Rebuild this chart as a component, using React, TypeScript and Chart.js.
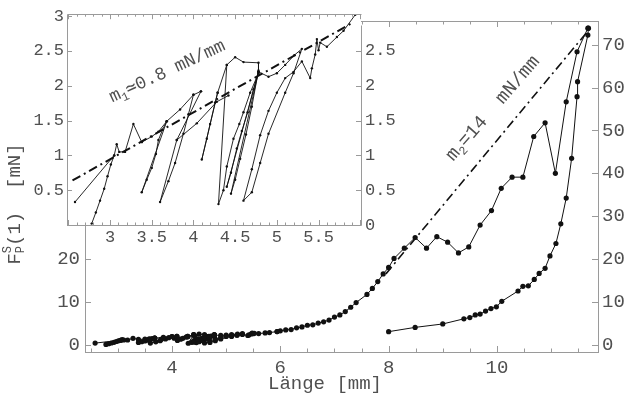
import React, { useEffect, useRef } from 'react';
import { Chart, registerables } from 'chart.js';
Chart.register(...registerables);

type P = [number, number];

// ---------- inset data (Länge [mm], F [mN]) ----------
const insetSegA: P[] = [[2.58, 0.33], [3.05, 1.0]];
const insetSegB: P[] = [[2.78, 0.02], [2.83, 0.18], [2.88, 0.35], [2.93, 0.52], [2.97, 0.7], [3.01, 0.87], [3.05, 1.0], [3.08, 1.16], [3.11, 1.05], [3.18, 1.05], [3.28, 1.45], [3.38, 1.19], [3.5, 1.27], [3.58, 1.34], [3.68, 1.49]];
const insetSegC: P[] = [[3.68, 1.49], [3.38, 0.47], [3.44, 0.65], [3.5, 0.82], [3.55, 1.02], [3.58, 1.22], [3.63, 1.37], [3.68, 1.49], [3.84, 1.66], [4.0, 1.87], [4.09, 1.92]];
const insetSegD: P[] = [[4.09, 1.92], [3.8, 1.22], [3.6, 0.33], [3.7, 0.63], [3.78, 0.89], [3.88, 1.31], [3.94, 1.59], [4.0, 1.87]];
const insetSegE: P[] = [[3.8, 1.22], [4.04, 1.46], [4.28, 1.77], [4.42, 1.86]];
const insetSegF: P[] = [[4.29, 1.9], [4.1, 0.94], [4.16, 1.24], [4.2, 1.45], [4.26, 1.76], [4.29, 1.9], [4.4, 2.3], [4.5, 2.41], [4.6, 2.34], [4.78, 2.33], [4.78, 2.2]];
const insetSegG: P[] = [[4.4, 2.3], [4.3, 0.3], [4.36, 0.5], [4.4, 0.84], [4.48, 1.24], [4.55, 1.45], [4.6, 1.62], [4.68, 1.9], [4.78, 2.18]];
const insetSegH: P[] = [[4.78, 2.2], [4.4, 0.55], [4.45, 0.75], [4.52, 1.1], [4.58, 1.35], [4.65, 1.62], [4.72, 1.95], [4.78, 2.2], [4.45, 0.45], [4.5, 0.65], [4.56, 0.95], [4.63, 1.3], [4.7, 1.7], [4.78, 2.22]];
const insetSegI: P[] = [[4.78, 2.2], [4.9, 2.13], [5.0, 2.18], [5.1, 2.3], [5.21, 2.44], [5.3, 2.53], [5.2, 2.18], [5.1, 1.9], [4.9, 1.31], [4.8, 0.89], [4.7, 0.47], [4.6, 0.35], [4.7, 0.8], [4.8, 1.29], [4.9, 1.64], [5.0, 1.9], [5.1, 2.11], [5.2, 2.2], [5.3, 2.35], [5.4, 2.11], [5.42, 2.25], [5.46, 2.45], [5.48, 2.67], [5.5, 2.51], [5.52, 2.62], [5.6, 2.56], [5.72, 2.7], [5.8, 2.79], [5.94, 3.02]];
const insetSegments: P[][] = [insetSegA, insetSegB, insetSegC, insetSegD, insetSegE, insetSegF, insetSegG, insetSegH, insetSegI];

// ---------- main curve continuation ----------
const mainLoading: P[] = [[5.94, 3.02], [6.0, 3.2], [6.1, 3.4], [6.2, 3.5], [6.3, 3.9], [6.4, 4.1], [6.5, 4.5], [6.6, 4.6], [6.7, 5.0], [6.8, 5.3], [6.9, 5.7], [7.0, 6.4], [7.1, 6.9], [7.2, 7.7], [7.3, 8.7], [7.4, 9.8], [7.6, 11.7], [7.7, 13.1], [7.8, 14.7], [7.9, 16.5], [8.0, 18.0], [8.1, 20.1], [8.29, 22.5], [8.49, 25.0], [8.7, 22.5], [8.89, 25.2], [9.09, 23.9], [9.29, 21.4], [9.48, 22.8], [9.69, 27.9], [9.9, 31.3], [10.08, 36.5], [10.28, 39.1], [10.48, 39.1], [10.68, 48.6], [10.89, 51.8], [11.08, 40.0], [11.28, 56.7], [11.48, 68.4], [11.68, 73.9]];
const mainSecond: P[] = [[8.0, 3.0], [8.49, 4.0], [9.0, 4.8], [9.39, 6.0], [9.5, 6.3], [9.6, 6.9], [9.69, 7.1], [9.79, 7.8], [9.89, 8.4], [9.99, 8.8], [10.09, 10.1], [10.39, 12.5], [10.48, 13.6], [10.58, 13.7], [10.69, 15.2], [10.78, 16.6], [10.89, 17.8], [10.98, 20.7], [11.09, 23.6], [11.18, 28.2], [11.28, 34.2], [11.38, 43.5], [11.48, 57.9], [11.49, 61.4], [11.68, 72.3], [11.69, 73.9]];

// slope lines
const slope1Line: P[] = [[2.55, 0.64], [5.9, 2.9]];
const slope2Line: P[] = [[7.95, 16.5], [11.75, 74.3]];

// ticks
const mainXLabels = [4, 6, 8, 10];
const mainXMinor = [2.5, 3, 3.5, 4, 4.5, 5, 5.5, 6, 6.5, 7, 7.5, 8, 8.5, 9, 9.5, 10, 10.5, 11, 11.5];
const mainYLabels = [0, 10, 20, 30, 40, 50, 60, 70];
const insetXLabels = [3, 3.5, 4, 4.5, 5, 5.5];
const insetYLeftLabels = [0.5, 1, 1.5, 2, 2.5, 3];
const insetYRightLabels = [0, 0.5, 1, 1.5, 2, 2.5];

// annotation anchors (data coords)
const m1Anchor: P = [3.68, 2.22];
const m2Anchor: P = [9.915, 55.3];

const FONT = "'Liberation Mono', 'DejaVu Sans Mono', monospace";
const TEXT = '#505050';
const FRAME = '#9a9a9a';
const INK = '#111';

type Part = { t: string; size: number; dy: number; adv?: boolean };

function drawParts(ctx: CanvasRenderingContext2D, parts: Part[], cx: number, cy: number, angle: number) {
  ctx.save();
  ctx.translate(cx, cy);
  ctx.rotate(angle);
  let total = 0;
  for (const p of parts) {
    ctx.font = `${p.size}px ${FONT}`;
    if (p.adv !== false) total += ctx.measureText(p.t).width;
  }
  let u = -total / 2;
  ctx.textAlign = 'left';
  ctx.textBaseline = 'alphabetic';
  ctx.fillStyle = TEXT;
  for (const p of parts) {
    ctx.font = `${p.size}px ${FONT}`;
    ctx.fillText(p.t, u, p.dy);
    if (p.adv !== false) u += ctx.measureText(p.t).width;
  }
  ctx.restore();
}

const px = (v: number) => Math.round(v) + 0.5;

const mainDeco = {
  id: 'mainDeco',
  afterDraw(chart: any) {
    const { ctx, chartArea: a, scales } = chart;
    const x = scales.x, y = scales.y;
    ctx.save();
    ctx.strokeStyle = FRAME;
    ctx.lineWidth = 1;
    ctx.strokeRect(px(a.left), px(a.top), Math.round(a.right - a.left), Math.round(a.bottom - a.top));
    ctx.beginPath();
    for (const v of mainXMinor) {
      const X = px(x.getPixelForValue(v));
      const len = mainXLabels.includes(v) ? 6 : 3.5;
      ctx.moveTo(X, a.bottom); ctx.lineTo(X, a.bottom - len);
      ctx.moveTo(X, a.top); ctx.lineTo(X, a.top + len);
    }
    for (const v of mainYLabels) {
      const Y = px(y.getPixelForValue(v));
      ctx.moveTo(a.left, Y); ctx.lineTo(a.left + 6, Y);
      ctx.moveTo(a.right, Y); ctx.lineTo(a.right - 6, Y);
    }
    ctx.stroke();
    ctx.restore();
    drawParts(ctx, [
      { t: 'F', size: 19, dy: 0 },
      { t: 'S', size: 12, dy: -9, adv: false },
      { t: 'P', size: 12, dy: 4 },
      { t: '(1)  [mN]', size: 19, dy: 0 },
    ], 20, 204, -Math.PI / 2);
    drawParts(ctx, [{ t: 'Länge [mm]', size: 19, dy: 6 }], 325, 383, 0);
    drawParts(ctx, [
      { t: 'm', size: 19, dy: 6 },
      { t: '2', size: 12, dy: 10 },
      { t: '=14  mN/mm', size: 19, dy: 6 },
    ], x.getPixelForValue(m2Anchor[0]), y.getPixelForValue(m2Anchor[1]), -49 * Math.PI / 180);
  },
};

const insetDeco = {
  id: 'insetDeco',
  beforeDraw(chart: any) {
    const { ctx, chartArea: a } = chart;
    ctx.save();
    ctx.fillStyle = '#fff';
    ctx.fillRect(28, 0, a.right - 28, a.bottom);
    ctx.restore();
  },
  afterDraw(chart: any) {
    const { ctx, chartArea: a, scales } = chart;
    const x = scales.x, y = scales.y;
    ctx.save();
    ctx.strokeStyle = FRAME;
    ctx.lineWidth = 1;
    const L = px(a.left), R = px(a.right), T = px(a.top), B = px(a.bottom);
    ctx.beginPath();
    ctx.moveTo(L, T); ctx.lineTo(R, T);
    ctx.moveTo(L, T); ctx.lineTo(L, B);
    ctx.moveTo(L, B); ctx.lineTo(R, B);
    ctx.moveTo(R, T + 11); ctx.lineTo(R, B);
    for (let i = 25; i <= 60; i++) {
      const X = px(x.getPixelForValue(i / 10));
      if (X < a.left || X > a.right) continue;
      const len = i % 5 === 0 ? 5 : 2.5;
      ctx.moveTo(X, a.bottom); ctx.lineTo(X, a.bottom - len);
      ctx.moveTo(X, a.top); ctx.lineTo(X, a.top + len);
    }
    for (let i = 0; i <= 6; i++) {
      const Y = px(y.getPixelForValue(i / 2));
      ctx.moveTo(a.left, Y); ctx.lineTo(a.left + 5, Y);
      if (i < 6) { ctx.moveTo(a.right, Y); ctx.lineTo(a.right - 5, Y); }
    }
    ctx.stroke();
    ctx.restore();
    drawParts(ctx, [
      { t: 'm', size: 18, dy: 6 },
      { t: '1', size: 12, dy: 10 },
      { t: '≃0.8 mN/mm', size: 18, dy: 6 },
    ], x.getPixelForValue(m1Anchor[0]), y.getPixelForValue(m1Anchor[1]), -25 * Math.PI / 180);
  },
};

const toXY = (pts: P[]) => pts.map(([x, y]) => ({ x, y }));

function tickAxis(opts: any) {
  return {
    type: 'linear',
    grid: { display: false, drawTicks: false },
    border: { display: false },
    ...opts,
  };
}

const fmt = (v: any) => String(v);

export default function App() {
  const mainRef = useRef<HTMLCanvasElement | null>(null);
  const insetRef = useRef<HTMLCanvasElement | null>(null);

  useEffect(() => {
    if (!mainRef.current || !insetRef.current) return;
    const dataStyle = (pts: P[], r: number, w: number) => ({
      data: toXY(pts),
      showLine: true,
      borderColor: INK,
      backgroundColor: INK,
      borderWidth: w,
      pointRadius: r,
      pointBorderWidth: 0,
      pointBackgroundColor: INK,
      tension: 0,
    });
    const tickFont = (s: number) => ({ family: FONT, size: s });

    const main = new Chart(mainRef.current, {
      type: 'scatter',
      data: {
        datasets: [
          ...insetSegments.map((s) => dataStyle(s, 2.6, 1)),
          dataStyle(mainLoading, 2.6, 1),
          dataStyle(mainSecond, 2.6, 1),
          { ...dataStyle(slope2Line, 0, 1.6), borderDash: [9, 4, 2, 4] },
        ],
      },
      options: {
        animation: false,
        responsive: false,
        devicePixelRatio: 1,
        layout: { padding: { top: 21, left: 0, right: 0, bottom: 0 } },
        plugins: { legend: { display: false }, tooltip: { enabled: false } },
        scales: {
          x: tickAxis({
            position: 'bottom', min: 2.393, max: 11.867,
            afterBuildTicks: (s: any) => { s.ticks = mainXLabels.map((v) => ({ value: v })); },
            afterFit: (s: any) => { s.height = 46; },
            ticks: { color: TEXT, font: tickFont(19), padding: 5, autoSkip: false, maxRotation: 0, minRotation: 0, callback: fmt },
          }),
          y: tickAxis({
            position: 'left', min: -1.75, max: 75.58,
            afterBuildTicks: (s: any) => { s.ticks = mainYLabels.map((v) => ({ value: v })); },
            afterFit: (s: any) => { s.width = 85; },
            ticks: { color: TEXT, font: tickFont(19), padding: 5, autoSkip: false, callback: fmt },
          }),
          y2: tickAxis({
            position: 'right', min: -1.75, max: 75.58,
            afterBuildTicks: (s: any) => { s.ticks = mainYLabels.map((v) => ({ value: v })); },
            afterFit: (s: any) => { s.width = 28; },
            ticks: { color: TEXT, font: tickFont(19), padding: 4, autoSkip: false, callback: fmt },
          }),
        },
      } as any,
      plugins: [mainDeco],
    });

    const inset = new Chart(insetRef.current, {
      type: 'scatter',
      data: {
        datasets: [
          ...insetSegments.map((s) => dataStyle(s, 1.2, 0.9)),
          { ...dataStyle(slope1Line, 0, 2), borderDash: [9, 4, 2, 4] },
        ],
      },
      options: {
        animation: false,
        responsive: false,
        devicePixelRatio: 1,
        layout: { padding: { top: 10, left: 0, right: 0, bottom: 0 } },
        plugins: { legend: { display: false }, tooltip: { enabled: false } },
        scales: {
          x: tickAxis({
            position: 'bottom', min: 2.484, max: 6.009,
            afterBuildTicks: (s: any) => { s.ticks = insetXLabels.map((v) => ({ value: v })); },
            afterFit: (s: any) => { s.height = 20; },
            ticks: { color: TEXT, font: tickFont(17), padding: 2, autoSkip: false, maxRotation: 0, minRotation: 0, callback: fmt },
          }),
          y: tickAxis({
            position: 'left', min: 0, max: 3.028,
            afterBuildTicks: (s: any) => { s.ticks = insetYLeftLabels.map((v) => ({ value: v })); },
            afterFit: (s: any) => { s.width = 67; },
            ticks: { color: TEXT, font: tickFont(17), padding: 3, autoSkip: false, callback: fmt },
          }),
          y2: tickAxis({
            position: 'right', min: 0, max: 3.028,
            afterBuildTicks: (s: any) => { s.ticks = insetYRightLabels.map((v) => ({ value: v })); },
            afterFit: (s: any) => { s.width = 49; },
            ticks: { color: TEXT, font: tickFont(17), padding: 4, autoSkip: false, callback: fmt },
          }),
        },
      } as any,
      plugins: [insetDeco],
    });

    return () => { main.destroy(); inset.destroy(); };
  }, []);

  return (
    <div style={{ position: 'fixed', left: 0, top: 0, width: 626, height: 398, background: '#fff', overflow: 'hidden' }}>
      <canvas ref={mainRef} width={626} height={398} style={{ position: 'absolute', left: 0, top: 0, width: 626, height: 398 }} />
      <canvas ref={insetRef} width={410} height={245} style={{ position: 'absolute', left: 0, top: 0, width: 410, height: 245 }} />
    </div>
  );
}
